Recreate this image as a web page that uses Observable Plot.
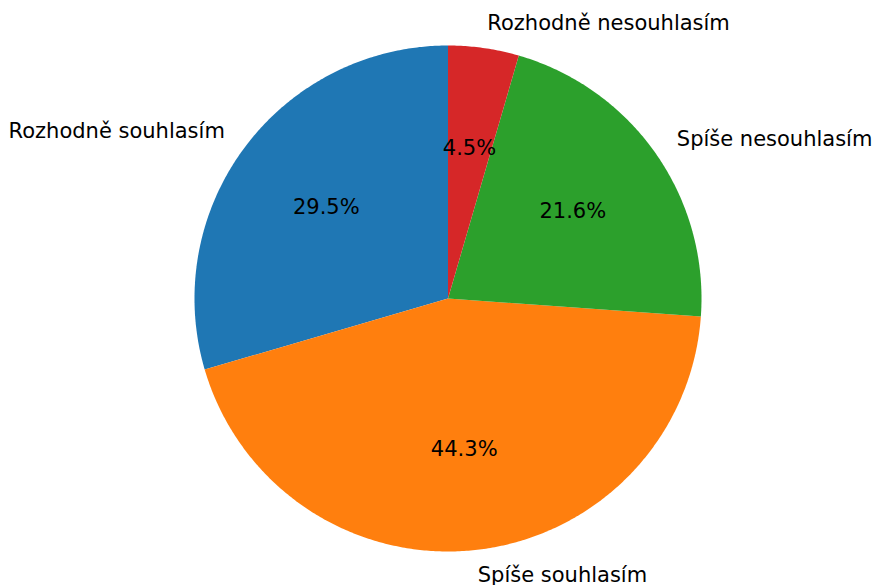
<!DOCTYPE html>
<html>
<head>
<meta charset="utf-8">
<script src="https://cdn.jsdelivr.net/npm/d3@7"></script>
<script src="https://cdn.jsdelivr.net/npm/@observablehq/plot@0.6"></script>
<style>
  html, body { margin: 0; padding: 0; background: #fff; }
</style>
</head>
<body>
<div id="chart"></div>
<script>
const labels = ["Rozhodně souhlasím", "Spíše souhlasím", "Spíše nesouhlasím", "Rozhodně nesouhlasím"];
const values = [29.5, 44.3, 21.6, 4.5];
const colors = ["#1f77b4", "#ff7f0e", "#2ca02c", "#d62728"];

const total = d3.sum(values);
let cum = 0;
const slices = labels.map((label, i) => {
  const frac = values[i] / total;
  const a0 = 90 + cum * 360;
  cum += frac;
  const a1 = 90 + cum * 360;
  return {label, pct: values[i], a0, a1, mid: (a0 + a1) / 2};
});

const rad = a => a * Math.PI / 180;
const pts = [];
for (const s of slices) {
  pts.push({label: s.label, x: 0, y: 0});
  const n = Math.max(2, Math.ceil((s.a1 - s.a0) / 0.5));
  for (let k = 0; k <= n; k++) {
    const a = rad(s.a0 + (s.a1 - s.a0) * k / n);
    pts.push({label: s.label, x: Math.cos(a), y: Math.sin(a)});
  }
  pts.push({label: s.label, x: 0, y: 0});
}

const outer = slices.map(s => ({
  text: s.label, x: 1.1 * Math.cos(rad(s.mid)), y: 1.1 * Math.sin(rad(s.mid))
}));
const inner = slices.map(s => ({
  text: s.pct.toFixed(1) + "%", x: 0.6 * Math.cos(rad(s.mid)), y: 0.6 * Math.sin(rad(s.mid))
}));

const chart = Plot.plot({
  width: 872,
  height: 585,
  marginLeft: 194,
  marginRight: 171,
  marginTop: 45,
  marginBottom: 34,
  x: {domain: [-1, 1], axis: null},
  y: {domain: [-1, 1], axis: null},
  color: {domain: labels, range: colors},
  style: {fontFamily: "DejaVu Sans", background: "#fff", overflow: "visible"},
  marks: [
    Plot.line(pts, {x: "x", y: "y", z: "label", fill: "label", stroke: "none", curve: "linear"}),
    Plot.text(outer.filter(d => d.x >= 0), {x: "x", y: "y", text: "text", textAnchor: "start", fontSize: 21, fill: "#000"}),
    Plot.text(outer.filter(d => d.x < 0), {x: "x", y: "y", text: "text", textAnchor: "end", fontSize: 21, fill: "#000"}),
    Plot.text(inner, {x: "x", y: "y", text: "text", textAnchor: "middle", fontSize: 21, fill: "#000"})
  ]
});
document.getElementById("chart").appendChild(chart);
</script>
</body>
</html>
